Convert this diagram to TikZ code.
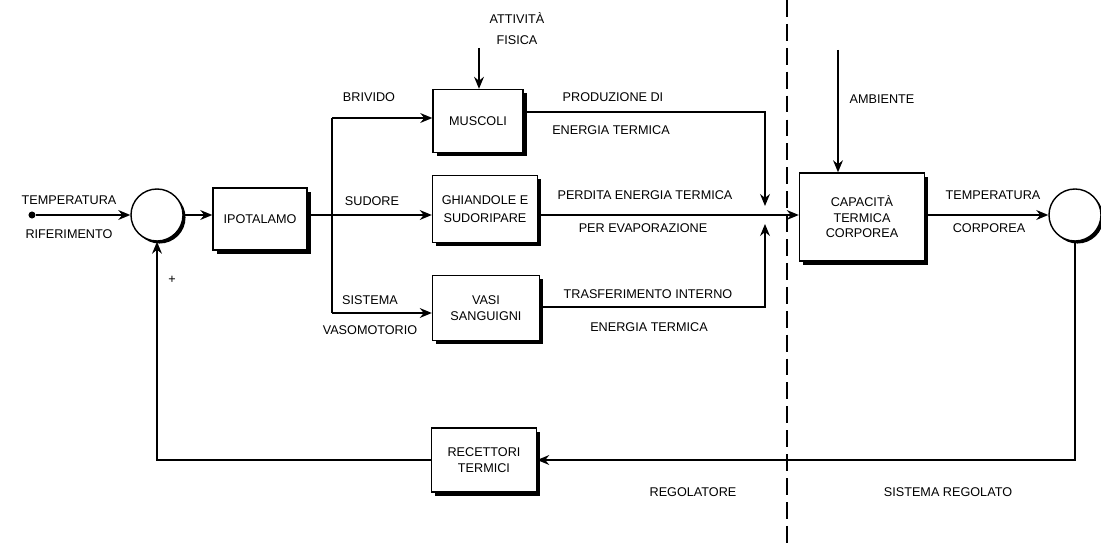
\documentclass[tikz,border=0pt]{standalone}
\usepackage{fontspec}
\setmainfont{Liberation Sans}
\usetikzlibrary{arrows.meta,shadows}
\begin{document}
\begin{tikzpicture}[x=0.025cm,y=-0.025cm,
  font=\fontsize{9}{11}\selectfont,
  blk/.style={draw, line width=1pt, fill=white, align=center, inner sep=2pt,
    drop shadow={shadow xshift=2.8pt, shadow yshift=-2.8pt, opacity=1, fill=black}},
  sumj/.style={circle, draw, line width=1pt, fill=white, minimum size=1.3cm, inner sep=0pt,
    drop shadow={shadow xshift=1.8pt, shadow yshift=-1.8pt, opacity=1, fill=black}},
  conn/.style={line width=1.1pt},
  arr/.style={conn, -{Stealth[length=8.5pt,width=7pt]}},
  lbl/.style={inner sep=0pt, align=center}]
\useasboundingbox (0,0) rectangle (1101,545);
\fill[white] (0,0) rectangle (1101,545);

% dashed separator
\coordinate (dt) at (787,0);
\coordinate (db) at (787,545);
\draw[line width=1pt, dash pattern=on 12pt off 5pt] (dt) -- (db);

% blocks
\node[sumj] (s1) at (157,215) {};
\node[blk, minimum width=2.35cm, minimum height=1.55cm] (ipo) at (260,219) {IPOTALAMO};
\node[blk, minimum width=2.25cm, minimum height=1.575cm] (mus) at (478,121) {MUSCOLI};
\node[blk, minimum width=2.625cm, minimum height=1.675cm, font=\fontsize{9}{13}\selectfont] (ghi) at (485,209) {GHIANDOLE E\\SUDORIPARE};
\node[blk, minimum width=2.675cm, minimum height=1.625cm] (vas) at (486,308) {VASI\\SANGUIGNI};
\node[blk, minimum width=3.125cm, minimum height=2.2cm] (cap) at (862,217) {CAPACITÀ\\TERMICA\\CORPOREA};
\node[blk, minimum width=2.625cm, minimum height=1.6cm] (rec) at (484,460) {RECETTORI\\TERMICI};
\node[sumj] (s2) at (1075,215) {};

% input
\node[circle, fill, inner sep=0pt, minimum size=5pt] (in) at (32,215) {};
\draw[arr] (in) -- (s1);
\draw[arr] (s1) -- (ipo.west |- s1);

% branching
\coordinate (br) at (332,215);
\coordinate (bt) at (332,118);
\coordinate (bb) at (332,313);
\draw[conn] (ipo.east |- br) -- (br);
\draw[conn] (bt) -- (bb);
\draw[arr] (bt) -- (mus.west |- bt);
\draw[arr] (br) -- (ghi.west |- br);
\draw[arr] (bb) -- (vas.west |- bb);

% physical activity and environment
\coordinate (af) at (479,48);
\draw[arr] (af) -- (mus.north -| af);
\coordinate (amb) at (838,50);
\draw[arr] (amb) -- (cap.north -| amb);

% heat flows
\coordinate (jt) at (765,112);
\coordinate (jta) at (765,206);
\coordinate (jb) at (765,307);
\coordinate (jba) at (765,224);
\draw[arr] (mus.east |- jt) -- (jt) -- (jta);
\draw[arr] (vas.east |- jb) -- (jb) -- (jba);
\draw[arr] (ghi.east |- br) -- (cap.west |- br);

% output
\draw[arr] (cap.east |- s2) -- (s2);

% feedback
\coordinate (f1) at (1075,460);
\coordinate (f2) at (157,460);
\draw[arr] (s2) -- (f1) -- (rec.east |- f1);
\draw[arr] (rec.west |- f2) -- (f2) -- (s1);

% labels
\node[lbl] (l1) at (69,200) {TEMPERATURA};
\node[lbl] (l2) at (69,234) {RIFERIMENTO};
\node[lbl] (l3) at (369,97) {BRIVIDO};
\node[lbl] (l4) at (372,201) {SUDORE};
\node[lbl] (l5) at (370,300) {SISTEMA};
\node[lbl] (l6) at (370,330) {VASOMOTORIO};
\node[lbl, font=\fontsize{9}{15}\selectfont] (l7) at (517,29) {ATTIVITÀ\\FISICA};
\node[lbl] (l8) at (613,97) {PRODUZIONE DI};
\node[lbl] (l9) at (611,130) {ENERGIA TERMICA};
\node[lbl] (l10) at (645,195) {PERDITA ENERGIA TERMICA};
\node[lbl] (l11) at (643,228) {PER EVAPORAZIONE};
\node[lbl] (l12) at (648,294) {TRASFERIMENTO INTERNO};
\node[lbl] (l13) at (649,327) {ENERGIA TERMICA};
\node[lbl] (l14) at (882,99) {AMBIENTE};
\node[lbl] (l15) at (993,195) {TEMPERATURA};
\node[lbl] (l16) at (989,228) {CORPOREA};
\node[lbl] (l17) at (693,492) {REGOLATORE};
\node[lbl] (l18) at (948,492) {SISTEMA REGOLATO};
\node[lbl] (l19) at (172,280) {+};
\end{tikzpicture}
\end{document}
